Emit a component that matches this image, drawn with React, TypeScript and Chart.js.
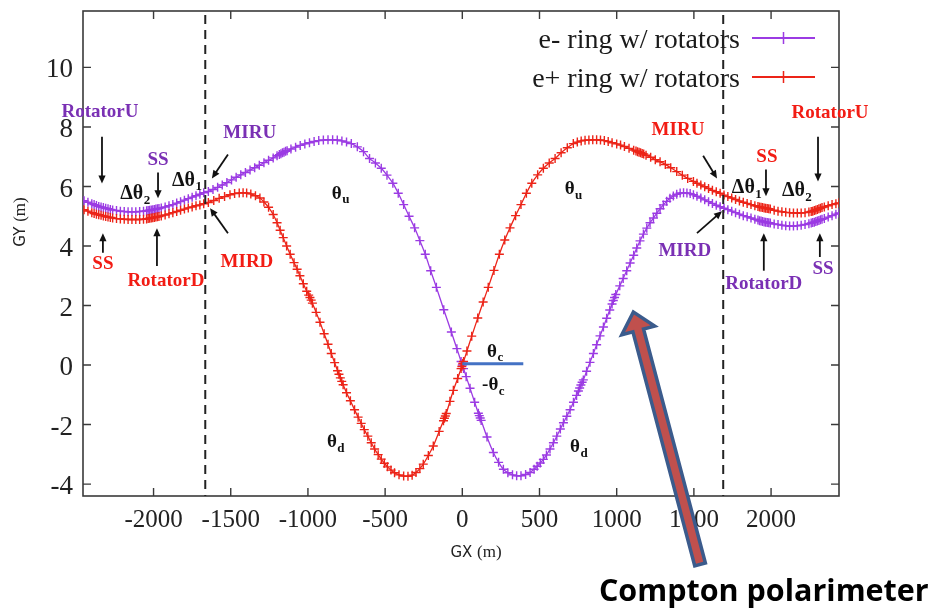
import React, { useEffect, useRef } from 'react';
import { Chart, registerables } from 'chart.js';

Chart.register(...registerables);

// ---------------- data ----------------
const xTicks = [-2000, -1500, -1000, -500, 0, 500, 1000, 1500, 2000];
const yTicks = [-4, -2, 0, 2, 4, 6, 8, 10];
const xRange = [-2457, 2440];
const yRange = [-4.4, 11.895];
const seriesNames = ['e- ring w/ rotators', 'e+ ring w/ rotators'];

// e- ring (purple), [GX, GY]
const eMinusRing: [number, number][] = [
  [-2450, 5.52], [-2425, 5.47], [-2400, 5.42], [-2385, 5.39], [-2370, 5.36], [-2355, 5.33], [-2340, 5.31],
  [-2325, 5.29], [-2310, 5.27], [-2295, 5.25], [-2280, 5.23], [-2265, 5.21], [-2240, 5.19], [-2215, 5.17],
  [-2190, 5.16], [-2165, 5.15], [-2140, 5.15], [-2115, 5.15], [-2090, 5.16], [-2065, 5.17], [-2045, 5.18],
  [-2035, 5.19], [-2025, 5.2], [-2015, 5.21], [-2005, 5.22], [-1995, 5.23], [-1985, 5.24], [-1975, 5.25],
  [-1965, 5.26], [-1950, 5.28], [-1925, 5.31], [-1900, 5.35], [-1875, 5.39], [-1850, 5.44], [-1825, 5.49],
  [-1800, 5.54], [-1775, 5.59], [-1750, 5.64], [-1725, 5.69], [-1700, 5.74], [-1675, 5.79],
  [-1645, 5.83], [-1615, 5.9], [-1585, 5.97], [-1555, 6.05], [-1525, 6.13], [-1495, 6.22], [-1465, 6.31],
  [-1435, 6.39], [-1405, 6.47], [-1375, 6.55], [-1345, 6.63], [-1315, 6.71], [-1285, 6.8], [-1255, 6.88],
  [-1225, 6.96], [-1200, 7.03], [-1185, 7.07], [-1175, 7.1], [-1165, 7.13], [-1155, 7.15], [-1145, 7.18],
  [-1135, 7.2], [-1110, 7.26], [-1080, 7.32], [-1050, 7.38], [-1020, 7.43], [-990, 7.47], [-960, 7.51],
  [-930, 7.54], [-900, 7.56], [-870, 7.57], [-840, 7.57], [-810, 7.56], [-780, 7.53], [-750, 7.49],
  [-719, 7.44], [-680, 7.33], [-640, 7.17], [-601, 6.94], [-563, 6.79], [-525, 6.61], [-488, 6.38],
  [-450, 6.11], [-415, 5.77], [-380, 5.39], [-345, 5.0], [-309, 4.61], [-275, 4.18], [-240, 3.72],
  [-205, 3.17], [-168, 2.61], [-120, 1.86], [-71, 1.11], [-35, 0.55], [-8, 0.12], [0, 0.0], [8, -0.12],
  [25, -0.39], [50, -0.78], [80, -1.25], [104, -1.62], [110, -1.7], [116, -1.78], [122, -1.86], [160, -2.42],
  [201, -2.94], [235, -3.27], [266, -3.5], [295, -3.62], [325, -3.69], [352, -3.72], [380, -3.72],
  [410, -3.68], [439, -3.61], [465, -3.5], [485, -3.4], [505, -3.29], [525, -3.17], [545, -3.02],
  [568, -2.82], [590, -2.61], [612, -2.39], [635, -2.15], [655, -1.94], [677, -1.72], [698, -1.5],
  [720, -1.25], [740, -1.02], [752, -0.87], [760, -0.77], [768, -0.67], [776, -0.58], [784, -0.5],
  [805, -0.21], [827, 0.09], [849, 0.39], [870, 0.68], [892, 0.98], [914, 1.28], [935, 1.57], [955, 1.85],
  [970, 2.05], [978, 2.17], [986, 2.27], [994, 2.37], [1020, 2.66], [1042, 2.91], [1065, 3.17], [1087, 3.43],
  [1110, 3.69], [1130, 3.93], [1151, 4.17], [1173, 4.4], [1195, 4.6], [1216, 4.78], [1238, 4.94],
  [1260, 5.1], [1281, 5.25], [1302, 5.38], [1324, 5.5], [1345, 5.6], [1367, 5.68], [1389, 5.74],
  [1411, 5.78], [1433, 5.79], [1455, 5.78], [1476, 5.76], [1497, 5.72],
  [1520, 5.67], [1545, 5.61], [1570, 5.55], [1595, 5.49], [1620, 5.43], [1645, 5.37], [1670, 5.32],
  [1695, 5.27], [1720, 5.22], [1745, 5.17], [1770, 5.12], [1795, 5.07], [1820, 5.02], [1845, 4.98],
  [1870, 4.94], [1895, 4.9], [1915, 4.87], [1925, 4.85], [1935, 4.84], [1945, 4.82], [1955, 4.81],
  [1965, 4.8], [1975, 4.79], [1985, 4.78], [1995, 4.77], [2020, 4.74], [2045, 4.72], [2070, 4.7],
  [2095, 4.68], [2120, 4.67], [2145, 4.67], [2170, 4.68], [2195, 4.7], [2220, 4.72], [2245, 4.75],
  [2260, 4.77], [2270, 4.79], [2280, 4.8], [2290, 4.82], [2300, 4.84], [2310, 4.86], [2320, 4.88],
  [2330, 4.9], [2345, 4.92], [2370, 4.97], [2395, 5.02], [2420, 5.07], [2440, 5.11],
];

// e+ ring (red), [GX, GY]
const ePlusRing: [number, number][] = [
  [-2450, 5.22], [-2425, 5.17], [-2400, 5.12], [-2385, 5.09], [-2370, 5.07], [-2355, 5.05], [-2340, 5.03],
  [-2325, 5.01], [-2310, 4.99], [-2295, 4.97], [-2280, 4.96], [-2265, 4.94], [-2240, 4.92], [-2215, 4.91],
  [-2190, 4.9], [-2165, 4.89], [-2140, 4.89], [-2115, 4.89], [-2090, 4.89], [-2065, 4.9], [-2045, 4.91],
  [-2035, 4.92], [-2025, 4.93], [-2015, 4.94], [-2005, 4.95], [-1995, 4.96], [-1985, 4.97], [-1975, 4.98],
  [-1965, 4.99], [-1950, 5.01], [-1925, 5.04], [-1900, 5.08], [-1875, 5.12], [-1850, 5.16], [-1825, 5.2],
  [-1800, 5.24], [-1775, 5.28], [-1750, 5.31], [-1725, 5.35], [-1700, 5.38], [-1675, 5.42],
  [-1645, 5.46], [-1610, 5.53], [-1575, 5.6], [-1540, 5.66], [-1505, 5.72], [-1475, 5.76], [-1445, 5.78],
  [-1420, 5.79], [-1397, 5.78], [-1370, 5.75], [-1340, 5.69], [-1311, 5.61], [-1285, 5.48], [-1255, 5.3],
  [-1225, 5.06], [-1200, 4.78], [-1180, 4.53], [-1160, 4.28], [-1138, 4.0], [-1115, 3.72], [-1090, 3.44],
  [-1070, 3.22], [-1052, 3.0], [-1030, 2.73], [-1008, 2.48], [-995, 2.35], [-987, 2.27], [-979, 2.18],
  [-971, 2.08], [-947, 1.77], [-922, 1.44], [-895, 1.05], [-870, 0.7], [-849, 0.39], [-827, 0.08],
  [-808, -0.19], [-799, -0.31], [-790, -0.43], [-781, -0.55], [-772, -0.66], [-750, -0.93], [-725, -1.2],
  [-698, -1.5], [-675, -1.75], [-655, -1.96], [-635, -2.17], [-612, -2.39], [-590, -2.61], [-568, -2.82],
  [-545, -3.01], [-525, -3.16], [-505, -3.3], [-485, -3.42], [-462, -3.53], [-439, -3.62], [-410, -3.69],
  [-380, -3.73], [-352, -3.74], [-325, -3.7], [-300, -3.61], [-275, -3.48], [-253, -3.33], [-220, -3.04],
  [-188, -2.72], [-150, -2.23], [-122, -1.87], [-116, -1.79], [-110, -1.71], [-104, -1.63], [-80, -1.22],
  [-58, -0.85], [-30, -0.45], [-8, -0.12], [-3, -0.05], [3, 0.05], [8, 0.12], [30, 0.47], [61, 0.97],
  [100, 1.58], [135, 2.12], [168, 2.61], [205, 3.18], [240, 3.72], [275, 4.2], [309, 4.61], [345, 5.02],
  [380, 5.39], [415, 5.77], [450, 6.11], [488, 6.39], [525, 6.61], [563, 6.79], [601, 6.94], [640, 7.13],
  [680, 7.3], [719, 7.44], [745, 7.49], [770, 7.53], [795, 7.55], [820, 7.56], [845, 7.57], [870, 7.57],
  [895, 7.56], [920, 7.54], [945, 7.51], [970, 7.47], [1000, 7.43], [1025, 7.39], [1050, 7.34],
  [1080, 7.28], [1110, 7.22], [1125, 7.19], [1135, 7.17], [1145, 7.15], [1155, 7.13], [1165, 7.11],
  [1175, 7.09], [1190, 7.05], [1220, 6.98], [1250, 6.9], [1281, 6.83], [1315, 6.74], [1350, 6.63],
  [1389, 6.5], [1425, 6.38], [1460, 6.27], [1497, 6.17],
  [1520, 6.11], [1545, 6.05], [1570, 5.99], [1595, 5.93], [1620, 5.87], [1645, 5.82], [1670, 5.77],
  [1695, 5.71], [1720, 5.66], [1745, 5.61], [1770, 5.56], [1795, 5.51], [1820, 5.47], [1845, 5.43],
  [1870, 5.39], [1895, 5.35], [1915, 5.33], [1925, 5.31], [1935, 5.3], [1945, 5.29], [1955, 5.28],
  [1965, 5.27], [1975, 5.26], [1985, 5.25], [1995, 5.24], [2020, 5.2], [2045, 5.17], [2070, 5.15],
  [2095, 5.13], [2120, 5.12], [2145, 5.11], [2170, 5.11], [2195, 5.11], [2220, 5.12], [2245, 5.14],
  [2260, 5.16], [2270, 5.17], [2280, 5.19], [2290, 5.21], [2300, 5.23], [2310, 5.25], [2320, 5.27],
  [2330, 5.29], [2345, 5.31], [2370, 5.35], [2395, 5.39], [2420, 5.42], [2440, 5.45],
];

// vertical dashed lines (GX) and the theta_c reference segment
const dashedLinesX = [-1665, 1690];
const thetaCSegment: [number, number][] = [[0, 0.04], [395, 0.04]];

// ---------------- styles ----------------
const PURPLE_LINE = '#9b3be3';
const RED_LINE = '#ec2418';
const PURPLE_TXT = '#7a30b4';
const RED_TXT = '#f21c14';
const BLACK = '#111111';
const SERIF = '"Liberation Serif", "Times New Roman", serif';

type Label = { text: string; sub?: string; x: number; y: number; color: string; align: 'left' | 'center'; size: number };
const labels: Label[] = [
  { text: 'RotatorU', x: -2347, y: 8.5, color: PURPLE_TXT, align: 'center', size: 19 },
  { text: 'SS', x: -1971, y: 6.9, color: PURPLE_TXT, align: 'center', size: 19 },
  { text: 'Δθ', sub: '2', x: -2216, y: 5.75, color: BLACK, align: 'left', size: 20 },
  { text: 'Δθ', sub: '1', x: -1881, y: 6.2, color: BLACK, align: 'left', size: 20 },
  { text: 'MIRU', x: -1377, y: 7.8, color: PURPLE_TXT, align: 'center', size: 19 },
  { text: 'SS', x: -2328, y: 3.4, color: RED_TXT, align: 'center', size: 19 },
  { text: 'RotatorD', x: -1920, y: 2.83, color: RED_TXT, align: 'center', size: 19 },
  { text: 'MIRD', x: -1395, y: 3.47, color: RED_TXT, align: 'center', size: 19 },
  { text: 'θ', sub: 'u', x: -845, y: 5.75, color: BLACK, align: 'left', size: 19 },
  { text: 'θ', sub: 'u', x: 663, y: 5.9, color: BLACK, align: 'left', size: 19 },
  { text: 'θ', sub: 'd', x: -877, y: -2.6, color: BLACK, align: 'left', size: 19 },
  { text: 'θ', sub: 'd', x: 698, y: -2.77, color: BLACK, align: 'left', size: 19 },
  { text: 'θ', sub: 'c', x: 160, y: 0.45, color: BLACK, align: 'left', size: 19 },
  { text: '-θ', sub: 'c', x: 128, y: -0.68, color: BLACK, align: 'left', size: 19 },
  { text: 'MIRU', x: 1397, y: 7.9, color: RED_TXT, align: 'center', size: 19 },
  { text: 'Δθ', sub: '1', x: 1746, y: 5.95, color: BLACK, align: 'left', size: 20 },
  { text: 'SS', x: 1973, y: 6.97, color: RED_TXT, align: 'center', size: 19 },
  { text: 'Δθ', sub: '2', x: 2070, y: 5.85, color: BLACK, align: 'left', size: 20 },
  { text: 'RotatorU', x: 2382, y: 8.47, color: RED_TXT, align: 'center', size: 19 },
  { text: 'MIRD', x: 1441, y: 3.83, color: PURPLE_TXT, align: 'center', size: 19 },
  { text: 'RotatorD', x: 1953, y: 2.73, color: PURPLE_TXT, align: 'center', size: 19 },
  { text: 'SS', x: 2336, y: 3.23, color: PURPLE_TXT, align: 'center', size: 19 },
];

// small black arrows: [x1, y1, x2(head), y2(head)] in data units
const arrows: [number, number, number, number][] = [
  [-2334, 7.67, -2334, 6.1],
  [-1971, 6.47, -1971, 5.6],
  [-1518, 7.07, -1622, 6.27],
  [-2328, 3.77, -2328, 4.43],
  [-1978, 3.33, -1978, 4.6],
  [-1518, 4.43, -1634, 5.27],
  [1560, 7.03, 1650, 6.27],
  [1967, 6.57, 1967, 5.67],
  [2304, 7.67, 2304, 6.17],
  [1520, 4.43, 1682, 5.17],
  [1953, 3.17, 1953, 4.43],
  [2316, 3.63, 2316, 4.43],
];

const comptonArrow: [number, number, number, number] = [1540, -6.7, 1108, 1.78];
const comptonText = { text: 'Compton polarimeter', x: 1953, y: -7.93 };

function drawArrow(ctx: CanvasRenderingContext2D, x1: number, y1: number, x2: number, y2: number) {
  const ang = Math.atan2(y2 - y1, x2 - x1);
  const hl = 8, hw = 3.6;
  ctx.save();
  ctx.strokeStyle = BLACK;
  ctx.fillStyle = BLACK;
  ctx.lineWidth = 1.8;
  ctx.beginPath();
  ctx.moveTo(x1, y1);
  ctx.lineTo(x2 - Math.cos(ang) * hl * 0.8, y2 - Math.sin(ang) * hl * 0.8);
  ctx.stroke();
  ctx.beginPath();
  ctx.moveTo(x2, y2);
  ctx.lineTo(x2 - Math.cos(ang) * hl + Math.sin(ang) * hw, y2 - Math.sin(ang) * hl - Math.cos(ang) * hw);
  ctx.lineTo(x2 - Math.cos(ang) * hl - Math.sin(ang) * hw, y2 - Math.sin(ang) * hl + Math.cos(ang) * hw);
  ctx.closePath();
  ctx.fill();
  ctx.restore();
}

function drawLabel(ctx: CanvasRenderingContext2D, l: Label, px: number, py: number) {
  const mainFont = `bold ${l.size}px ${SERIF}`;
  const subSize = Math.round(l.size * 0.66);
  const subFont = `bold ${subSize}px ${SERIF}`;
  ctx.save();
  ctx.textBaseline = 'middle';
  ctx.textAlign = 'left';
  ctx.font = mainFont;
  const w = ctx.measureText(l.text).width;
  let sw = 0;
  if (l.sub) {
    ctx.font = subFont;
    sw = ctx.measureText(l.sub).width;
  }
  const left = l.align === 'center' ? px - (w + sw) / 2 : px;
  ctx.fillStyle = l.color;
  ctx.font = mainFont;
  ctx.fillText(l.text, left, py);
  if (l.sub) {
    ctx.font = subFont;
    ctx.fillText(l.sub, left + w + 0.5, py + l.size * 0.32);
  }
  ctx.restore();
}

function drawCross(ctx: CanvasRenderingContext2D, x: number, y: number, r: number) {
  ctx.beginPath();
  ctx.moveTo(x - r, y);
  ctx.lineTo(x + r, y);
  ctx.moveTo(x, y - r);
  ctx.lineTo(x, y + r);
  ctx.stroke();
}

const framePlugin = {
  id: 'frame',
  beforeDatasetsDraw(chart: any) {
    const { ctx, chartArea: a, scales } = chart;
    ctx.save();
    ctx.strokeStyle = '#3a3a3a';
    ctx.lineWidth = 1.6;
    ctx.strokeRect(a.left, a.top, a.right - a.left, a.bottom - a.top);
    ctx.lineWidth = 1.4;
    ctx.beginPath();
    for (const t of xTicks) {
      const p = scales.x.getPixelForValue(t);
      ctx.moveTo(p, a.bottom); ctx.lineTo(p, a.bottom - 8);
      ctx.moveTo(p, a.top); ctx.lineTo(p, a.top + 8);
    }
    for (const t of yTicks) {
      const p = scales.y.getPixelForValue(t);
      ctx.moveTo(a.left, p); ctx.lineTo(a.left + 8, p);
      ctx.moveTo(a.right, p); ctx.lineTo(a.right - 8, p);
    }
    ctx.stroke();
    ctx.restore();
  },
};

const overlayPlugin = {
  id: 'overlay',
  afterDraw(chart: any) {
    const { ctx, chartArea: a, scales } = chart;
    const X = (v: number) => scales.x.getPixelForValue(v);
    const Y = (v: number) => scales.y.getPixelForValue(v);
    ctx.save();

    // legend (inside, top right)
    const rows = [
      { name: seriesNames[0], color: PURPLE_LINE, lineY: 38, baseY: 48 },
      { name: seriesNames[1], color: RED_LINE, lineY: 77, baseY: 87 },
    ];
    for (const r of rows) {
      ctx.font = `28px ${SERIF}`;
      ctx.fillStyle = '#1a1a1a';
      ctx.textAlign = 'right';
      ctx.textBaseline = 'alphabetic';
      ctx.fillText(r.name, 740, r.baseY);
      ctx.strokeStyle = r.color;
      ctx.lineWidth = 1.8;
      ctx.beginPath();
      ctx.moveTo(752, r.lineY);
      ctx.lineTo(815, r.lineY);
      ctx.stroke();
      ctx.lineWidth = 1.5;
      drawCross(ctx, 783.5, r.lineY, 6);
    }

    // dashed vertical lines
    ctx.strokeStyle = '#222';
    ctx.lineWidth = 2;
    ctx.setLineDash([9, 6]);
    for (const xv of dashedLinesX) {
      const p = X(xv);
      ctx.beginPath();
      ctx.moveTo(p, a.top + 4);
      ctx.lineTo(p, a.bottom);
      ctx.stroke();
    }
    ctx.setLineDash([]);

    // theta_c segment
    ctx.strokeStyle = '#4472c4';
    ctx.lineWidth = 3;
    ctx.beginPath();
    ctx.moveTo(X(thetaCSegment[0][0]), Y(thetaCSegment[0][1]));
    ctx.lineTo(X(thetaCSegment[1][0]), Y(thetaCSegment[1][1]));
    ctx.stroke();

    // labels & arrows
    for (const l of labels) drawLabel(ctx, l, X(l.x), Y(l.y));
    for (const ar of arrows) drawArrow(ctx, X(ar[0]), Y(ar[1]), X(ar[2]), Y(ar[3]));

    // axis titles
    ctx.fillStyle = '#222';
    ctx.textBaseline = 'middle';
    ctx.textAlign = 'left';
    const sansF = '15px "DejaVu Sans", sans-serif';
    const serF = `17px ${SERIF}`;
    const titleParts = (t1: string) => {
      ctx.font = sansF; const w1 = ctx.measureText(t1).width;
      ctx.font = serF; const w2 = ctx.measureText('(m)').width;
      return [w1, w2];
    };
    {
      const [w1, w2] = titleParts('GX ');
      const cx = 476, cy = 553;
      const left = cx - (w1 + w2) / 2;
      ctx.font = sansF; ctx.fillText('GX ', left, cy);
      ctx.font = serF; ctx.fillText('(m)', left + w1, cy);
    }
    {
      const [w1, w2] = titleParts('GY ');
      ctx.save();
      ctx.translate(21, 222);
      ctx.rotate(-Math.PI / 2);
      const left = -(w1 + w2) / 2;
      ctx.font = sansF; ctx.fillText('GY ', left, 0);
      ctx.font = serF; ctx.fillText('(m)', left + w1, 0);
      ctx.restore();
    }

    // Compton polarimeter arrow
    const tx = X(comptonArrow[0]), ty = Y(comptonArrow[1]);
    const px = X(comptonArrow[2]), py = Y(comptonArrow[3]);
    const len = Math.hypot(px - tx, py - ty);
    const dx = (px - tx) / len, dy = (py - ty) / len;
    const nx = -dy, ny = dx;
    const hl = 19, hw = 5.5, hh = 17;
    const bx = px - dx * hl, by = py - dy * hl;
    ctx.beginPath();
    ctx.moveTo(tx + nx * hw, ty + ny * hw);
    ctx.lineTo(bx + nx * hw, by + ny * hw);
    ctx.lineTo(bx + nx * hh, by + ny * hh);
    ctx.lineTo(px, py);
    ctx.lineTo(bx - nx * hh, by - ny * hh);
    ctx.lineTo(bx - nx * hw, by - ny * hw);
    ctx.lineTo(tx - nx * hw, ty - ny * hw);
    ctx.closePath();
    ctx.fillStyle = '#c0504d';
    ctx.fill();
    ctx.strokeStyle = '#3b5b8c';
    ctx.lineWidth = 3.5;
    ctx.lineJoin = 'miter';
    ctx.stroke();

    ctx.font = 'bold 30.5px "Open Sans", "Noto Sans", sans-serif';
    ctx.fillStyle = '#000';
    ctx.textAlign = 'center';
    ctx.textBaseline = 'alphabetic';
    ctx.fillText(comptonText.text, X(comptonText.x), Y(comptonText.y));

    ctx.restore();
  },
};

export default function App() {
  const canvasRef = useRef<HTMLCanvasElement | null>(null);

  useEffect(() => {
    if (!canvasRef.current) return;
    const mk = (pts: [number, number][]) => pts.map(([x, y]) => ({ x, y }));
    const ds = (label: string, pts: [number, number][], color: string, order: number) => ({
      label,
      data: mk(pts),
      showLine: true,
      borderColor: color,
      backgroundColor: color,
      borderWidth: 1.3,
      pointStyle: 'cross' as const,
      pointRadius: 4.5,
      pointBorderWidth: 1.4,
      pointBorderColor: color,
      cubicInterpolationMode: 'monotone' as const,
      order,
    });
    const chart = new Chart(canvasRef.current, {
      type: 'scatter',
      data: {
        datasets: [
          ds(seriesNames[0], eMinusRing, PURPLE_LINE, 1),
          ds(seriesNames[1], ePlusRing, RED_LINE, 0),
        ],
      },
      options: {
        animation: false,
        responsive: false,
        devicePixelRatio: 1,
        layout: { padding: { left: 0, right: 95, top: 11, bottom: 0 } },
        plugins: { legend: { display: false }, tooltip: { enabled: false } },
        scales: {
          x: {
            type: 'linear',
            min: xRange[0],
            max: xRange[1],
            afterBuildTicks: (axis: any) => { axis.ticks = xTicks.map((v) => ({ value: v })); },
            afterFit: (axis: any) => {
              axis.height = 118;
              axis.paddingLeft = 0;
              axis.paddingRight = 0;
            },
            grid: { display: false, drawTicks: false },
            border: { display: false },
            ticks: {
              padding: 9,
              color: '#222',
              font: { family: SERIF, size: 25 },
              callback: (v: any) => String(v),
              maxRotation: 0,
              autoSkip: false,
            },
          },
          y: {
            type: 'linear',
            min: yRange[0],
            max: yRange[1],
            afterBuildTicks: (axis: any) => { axis.ticks = yTicks.map((v) => ({ value: v })); },
            afterFit: (axis: any) => {
              axis.width = 83;
              axis.paddingTop = 0;
              axis.paddingBottom = 0;
            },
            grid: { display: false, drawTicks: false },
            border: { display: false },
            ticks: {
              padding: 10,
              labelOffset: 3,
              color: '#222',
              font: { family: SERIF, size: 27 },
              callback: (v: any) => String(v),
              autoSkip: false,
            },
          },
        },
      },
      plugins: [framePlugin, overlayPlugin],
    });
    return () => chart.destroy();
  }, []);

  return (
    <div style={{ position: 'fixed', left: 0, top: 0, width: 934, height: 614, background: '#fff' }}>
      <canvas ref={canvasRef} width={934} height={614} style={{ display: 'block' }} />
    </div>
  );
}
